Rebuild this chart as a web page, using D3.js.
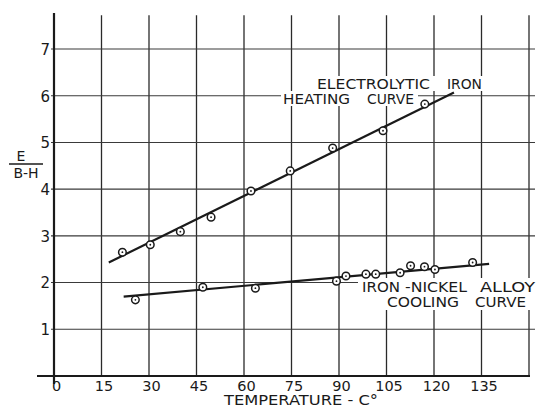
<!DOCTYPE html>
<html><head><meta charset="utf-8">
<script src="https://cdn.jsdelivr.net/npm/d3@7/dist/d3.min.js"></script>
<style>
html,body{margin:0;padding:0;background:#fff;}
svg{display:block;font-family:"DejaVu Sans",sans-serif;}
</style></head>
<body>
<svg id="chart" width="537" height="409"></svg>
<script>
// ---- data ----
const tempTicks = [0, 15, 30, 45, 60, 75, 90, 105, 120, 135];
const gridTemps = [15, 30, 45, 60, 75, 90, 105, 120, 135, 150];
const valueTicks = [1, 2, 3, 4, 5, 6, 7];

const heatingTemp  = [21.6, 30.4, 39.9, 49.6, 62.2, 74.6, 88.0, 103.9, 117.1];
const heatingValue = [2.65, 2.81, 3.09, 3.40, 3.96, 4.39, 4.88, 5.25, 5.82];
const heatingFitTemp  = [17.3, 126.3];
const heatingFitValue = [2.43, 6.07];

const coolingTemp  = [25.7, 47.0, 63.6, 89.2, 92.2, 98.5, 101.6, 109.3, 112.6, 117.0, 120.3, 132.2];
const coolingValue = [1.63, 1.90, 1.88, 2.03, 2.14, 2.18, 2.18, 2.21, 2.36, 2.34, 2.28, 2.43];
const coolingFitTemp  = [22.0, 137.4];
const coolingFitValue = [1.70, 2.40];

// ---- scales ----
const svg = d3.select("#chart");
const x = d3.scaleLinear().domain([0, 150]).range([54, 529]);
const y = d3.scaleLinear().domain([0, 7]).range([376, 49]);
const yTop = 7.72;
const ink = "#1a1a1a";

// grid
const grid = svg.append("g");
grid.selectAll("line.v").data(gridTemps).enter().append("line")
  .attr("x1", d => x(d)).attr("x2", d => x(d))
  .attr("y1", y(yTop)).attr("y2", y(0))
  .attr("stroke", "#2a2a2a").attr("stroke-width", 1.3);
grid.selectAll("line.h").data(valueTicks).enter().append("line")
  .attr("x1", x(0) - 3).attr("x2", 535)
  .attr("y1", d => y(d)).attr("y2", d => y(d))
  .attr("stroke", "#3a3a3a").attr("stroke-width", 1.1);

// axes
svg.append("line").attr("x1", 37).attr("x2", x(150) + 1)
  .attr("y1", y(0)).attr("y2", y(0)).attr("stroke", ink).attr("stroke-width", 2);
svg.append("line").attr("x1", x(0)).attr("x2", x(0))
  .attr("y1", y(7.77)).attr("y2", y(0) + 8).attr("stroke", ink).attr("stroke-width", 2.2);

// tick labels via axes
const xAxis = d3.axisBottom(x).tickValues(tempTicks).tickSize(0).tickPadding(0).tickFormat(d3.format("d"));
const gx = svg.append("g").attr("transform", `translate(0,${y(0)})`).call(xAxis);
gx.select(".domain").remove();
gx.selectAll("text").attr("y", 14.5).attr("dy", 0).attr("dx", 2)
  .attr("font-size", 14.5).attr("fill", ink).attr("font-family", "DejaVu Sans");

const yAxis = d3.axisLeft(y).tickValues(valueTicks).tickSize(0).tickPadding(0).tickFormat(d3.format("d"));
const gy = svg.append("g").attr("transform", `translate(${x(0) - 4},0)`).call(yAxis);
gy.select(".domain").remove();
gy.selectAll("text").attr("x", 0).attr("dy", "0.36em")
  .attr("font-size", 15).attr("fill", ink).attr("font-family", "DejaVu Sans");

// annotations with white backing
function word(txt, px, py, w) {
  svg.append("text").attr("x", px).attr("y", py)
    .attr("font-size", 14).attr("fill", ink)
    .attr("textLength", w).attr("lengthAdjust", "spacingAndGlyphs").text(txt);
}
function backing(x0, y0, x1, y1) {
  svg.append("rect").attr("x", x0).attr("y", y0).attr("width", x1 - x0).attr("height", y1 - y0).attr("fill", "#fff");
}
backing(313, 76, 486, 91);
backing(281, 91, 418, 106);
backing(358, 278, 537, 310);

word("ELECTROLYTIC", 317, 89, 113);
word("IRON", 447, 89, 35);
word("HEATING", 283, 104, 67);
word("CURVE", 367, 104, 47);
word("IRON", 362, 292, 38);
word("-NICKEL", 405, 292, 62);
word("ALLOY", 480, 292, 55);
word("COOLING", 387, 307, 72);
word("CURVE", 475, 307, 51);

// fit lines
const line = d3.line().x(d => x(d[0])).y(d => y(d[1]));
svg.append("path").datum(d3.zip(heatingFitTemp, heatingFitValue))
  .attr("d", line).attr("fill", "none").attr("stroke", ink).attr("stroke-width", 2.2);
svg.append("path").datum(d3.zip(coolingFitTemp, coolingFitValue))
  .attr("d", line).attr("fill", "none").attr("stroke", ink).attr("stroke-width", 2.2);

// points
function points(ts, vs) {
  const g = svg.append("g");
  const data = d3.zip(ts, vs);
  g.selectAll("circle.o").data(data).enter().append("circle")
    .attr("cx", d => x(d[0])).attr("cy", d => y(d[1])).attr("r", 3.8)
    .attr("fill", "#fff").attr("stroke", ink).attr("stroke-width", 1.5);
  g.selectAll("circle.c").data(data).enter().append("circle")
    .attr("cx", d => x(d[0])).attr("cy", d => y(d[1])).attr("r", 0.9)
    .attr("fill", ink);
}
points(heatingTemp, heatingValue);
points(coolingTemp, coolingValue);

// axis titles
svg.append("text").attr("x", 224).attr("y", 405).attr("font-size", 14).attr("fill", ink)
  .attr("textLength", 154).attr("lengthAdjust", "spacingAndGlyphs")
  .text("TEMPERATURE - C°");
svg.append("text").attr("x", 21).attr("y", 161).attr("font-size", 14).attr("fill", ink).attr("text-anchor", "middle").text("E");
svg.append("line").attr("x1", 9).attr("x2", 43).attr("y1", 164).attr("y2", 164).attr("stroke", ink).attr("stroke-width", 1.6);
svg.append("text").attr("x", 26).attr("y", 178).attr("font-size", 14).attr("fill", ink).attr("text-anchor", "middle").text("B-H");
</script>
</body></html>
